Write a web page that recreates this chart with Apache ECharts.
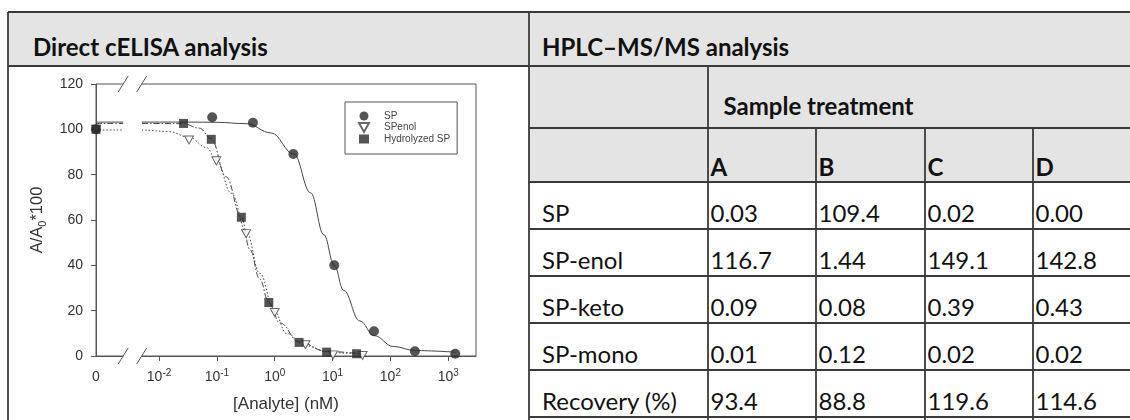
<!DOCTYPE html>
<html>
<head>
<meta charset="utf-8">
<script src="https://cdn.jsdelivr.net/npm/echarts@6/dist/echarts.min.js"></script>
<style>
  html, body { margin: 0; padding: 0; background: #fff; width: 1130px; height: 420px; overflow: hidden; }
  #page { position: relative; width: 1130px; height: 420px; }
  #table { position: absolute; left: 0; top: 0; }
  #chart { position: absolute; left: 9px; top: 67px; width: 519px; height: 353px; }
</style>
</head>
<body>
<div id="page">
  <svg id="table" width="1130" height="420"></svg>
  <div id="chart"></div>
</div>
<script>
// ---- cELISA curves: concentration (nM) and A/A0*100 ----
// concentration 0 is drawn at ZERO_POS, left of the axis break
const ZERO_POS = -3.09
const X_MAX = 3.48
const xTickExp = [-2, -1, 0, 1, 2, 3]
const yTicks = [0, 20, 40, 60, 80, 100, 120]

const spConc = [0, 0.083, 0.42, 2.1, 10.7, 52, 265, 1320]
const spVal = [100, 105.3, 102.9, 89.1, 40.0, 10.9, 2.1, 1.0]
const enolConc = [0, 0.033, 0.098, 0.32, 1.0, 3.4, 10.2, 33]
const enolVal = [100, 95.3, 86.1, 54.0, 19.2, 5.0, 0.5, 0.2]
const hydroConc = [0, 0.0265, 0.080, 0.265, 0.79, 2.64, 7.9, 26]
const hydroVal = [100, 102.6, 95.6, 61.2, 23.6, 6.0, 1.7, 1.0]

// fitted curves
const spFitConc = [0, 0.005, 0.032, 0.1, 0.32, 0.87, 2.14, 4.17, 7.08, 10.7, 15.5, 29.5, 52.5, 112, 269, 1318]
const spFitVal = [103.2, 103.2, 103.2, 103.1, 102.5, 98.4, 89.1, 72, 53.5, 40, 29, 15.5, 9, 4.2, 2.4, 1.7]
const enolFitConc = [0, 0.005, 0.015, 0.033, 0.066, 0.098, 0.178, 0.33, 0.55, 1.0, 1.58, 3.47, 7.9, 17.4, 35.5]
const enolFitVal = [99.7, 99.7, 99, 96.5, 92, 86.5, 71.8, 54, 36.5, 19.5, 10, 4.5, 2.0, 1.2, 0.8]
const hydroFitConc = [0, 0.005, 0.0263, 0.05, 0.079, 0.145, 0.263, 0.372, 0.55, 0.79, 1.23, 2.63, 7.9, 26.3]
const hydroFitVal = [102.6, 102.6, 102.5, 100.5, 96, 79, 61.5, 47, 34, 23.5, 14.6, 6.2, 2.0, 1.2]

// ---- HPLC-MS/MS table ----
const celisaTitle = 'Direct cELISA analysis'
const hplcTitle = 'HPLC–MS/MS analysis'
const treatmentTitle = 'Sample treatment'
const treatments = ['A', 'B', 'C', 'D']
const analytes = ['SP', 'SP-enol', 'SP-keto', 'SP-mono', 'Recovery (%)']
const spRow = ['0.03', '109.4', '0.02', '0.00']
const spEnolRow = ['116.7', '1.44', '149.1', '142.8']
const spKetoRow = ['0.09', '0.08', '0.39', '0.43']
const spMonoRow = ['0.01', '0.12', '0.02', '0.02']
const recoveryRow = ['93.4', '88.8', '119.6', '114.6']
const tableRows = [spRow, spEnolRow, spKetoRow, spMonoRow, recoveryRow]

// table layout
const X_LEFT = 8
const X_MID = 529
const COL_X = [708, 816, 925, 1033, 1141]
const ROW_Y = [12, 66, 128, 182, 229, 276, 323, 370, 417]
const GRAY = '#e4e4e4'
const LINE = '#3a3a3a'

const NS = 'http://www.w3.org/2000/svg'
const svg = document.getElementById('table')
const add = (tag, attrs, text) => {
  const el = document.createElementNS(NS, tag)
  Object.keys(attrs).forEach(k => el.setAttribute(k, attrs[k]))
  if (text !== undefined) el.textContent = text
  svg.appendChild(el)
  return el
}
const txt = (x, y, s, bold) => add('text', {
  x, y, 'font-family': 'Lato', 'font-size': 24, 'font-weight': bold ? 700 : 400, fill: '#111'
}, s)

// fills
add('rect', { x: X_LEFT, y: ROW_Y[0], width: COL_X[4] - X_LEFT, height: ROW_Y[1] - ROW_Y[0], fill: GRAY })
add('rect', { x: X_MID, y: ROW_Y[1], width: COL_X[4] - X_MID, height: ROW_Y[3] - ROW_Y[1], fill: GRAY })

// texts
txt(33, 56, celisaTitle, true)
txt(542, 56, hplcTitle, true)
txt(723.5, 115, treatmentTitle, true)
treatments.forEach((t, i) => txt(COL_X[i] + 2.5, 175.5, t, true))
analytes.forEach((a, r) => {
  const base = ROW_Y[r + 4] - 7
  txt(542, base, a, false)
  tableRows[r].forEach((v, i) => txt(COL_X[i] + 2.5, base, v, false))
})

// grid lines
const line = (x1, y1, x2, y2) => add('line', { x1, y1, x2, y2, stroke: LINE, 'stroke-width': 1.8 })
line(X_LEFT, ROW_Y[0], COL_X[4], ROW_Y[0])
line(X_LEFT, ROW_Y[1], COL_X[4], ROW_Y[1])
for (let r = 2; r < ROW_Y.length; r++) line(X_MID, ROW_Y[r], COL_X[4], ROW_Y[r])
line(X_LEFT, ROW_Y[0], X_LEFT, 430)
line(X_MID, ROW_Y[0], X_MID, 430)
line(COL_X[0], ROW_Y[1], COL_X[0], 430)
for (let i = 1; i < 4; i++) line(COL_X[i], ROW_Y[2], COL_X[i], 430)

// ---- chart ----
const pos = c => (c === 0 ? ZERO_POS : Math.log10(c))
const pairs = (cs, vs) => cs.map((c, i) => [pos(c), vs[i]])

const MARK = '#2b2b2b'
const AXIS = '#555'
const BREAK = [-2.62, -2.30]

const chart = echarts.init(document.getElementById('chart'))

const fitLine = (name, cs, vs, type) => ({
  name, type: 'line', data: pairs(cs, vs),
  smooth: 0.4, smoothMonotone: 'x', symbol: 'none', z: 2,
  lineStyle: { color: '#444', width: 1, type }
})

chart.setOption({
  animation: false,
  textStyle: { fontFamily: 'Liberation Sans' },
  grid: { left: 87, top: 17, width: 380, height: 272, show: true, borderColor: AXIS, borderWidth: 1 },
  legend: {
    orient: 'vertical', left: 336, top: 35,
    padding: [9, 7, 10, 13],
    itemWidth: 10, itemHeight: 9, itemGap: 1,
    borderColor: AXIS, borderWidth: 1,
    selectedMode: false,
    textStyle: { fontSize: 10, color: '#444', padding: [0, 0, 0, 10] },
    data: ['SP', 'SPenol', 'Hydrolyzed SP']
  },
  xAxis: {
    type: 'value', min: ZERO_POS, max: X_MAX,
    name: '[Analyte] (nM)', nameLocation: 'middle', nameGap: 40,
    nameTextStyle: { fontSize: 17, color: '#333' },
    axisLine: { show: true, onZero: false, lineStyle: { color: AXIS } },
    axisTick: { show: true, length: 5, customValues: xTickExp, lineStyle: { color: AXIS } },
    axisLabel: {
      customValues: [ZERO_POS].concat(xTickExp),
      margin: 12, color: '#333',
      formatter: v => (v === ZERO_POS ? '{b|0}' : '{b|10}{s|' + v + '}'),
      rich: {
        b: { fontSize: 14, lineHeight: 18, color: '#333' },
        s: { fontSize: 10, lineHeight: 10, verticalAlign: 'top', color: '#333' }
      }
    },
    splitLine: { show: false }
  },
  yAxis: {
    type: 'value', min: yTicks[0], max: yTicks[yTicks.length - 1], interval: 20,
    name: '{m|A/A}{sub|0}{m|*100}', nameLocation: 'middle', nameGap: 47,
    nameTextStyle: {
      color: '#333',
      rich: {
        m: { fontSize: 16.5, lineHeight: 20, verticalAlign: 'top', color: '#333' },
        sub: { fontSize: 11, lineHeight: 11, verticalAlign: 'bottom', color: '#333' }
      }
    },
    axisLine: { show: true, onZero: false, lineStyle: { color: AXIS } },
    axisTick: { show: true, length: 5, lineStyle: { color: AXIS } },
    axisLabel: { fontSize: 14, color: '#333', margin: 13 },
    splitLine: { show: false }
  },
  series: [
    fitLine('SP fit', spFitConc, spFitVal, 'solid'),
    fitLine('SPenol fit', enolFitConc, enolFitVal, [1.5, 2]),
    fitLine('Hydrolyzed SP fit', hydroFitConc, hydroFitVal, [6, 2, 1.5, 2]),
    {
      name: 'SPenol', type: 'scatter', data: pairs(enolConc, enolVal), z: 3,
      symbol: 'path://M0,0 L10,0 L5,9 Z', symbolSize: [9, 8],
      itemStyle: { color: '#fff', borderColor: '#444', borderWidth: 1 }
    },
    {
      name: 'Hydrolyzed SP', type: 'scatter', data: pairs(hydroConc, hydroVal), z: 4,
      symbol: 'rect', symbolSize: 9, itemStyle: { color: MARK }
    },
    {
      name: 'SP', type: 'scatter', data: pairs(spConc, spVal), z: 5,
      symbol: 'circle', symbolSize: 10, itemStyle: { color: MARK }
    }
  ]
})

// axis break marks (//) on the bottom axis and the top frame
const px = v => chart.convertToPixel({ xAxisIndex: 0 }, v)
const py = v => chart.convertToPixel({ yAxisIndex: 0 }, v)
const xa = px(BREAK[0]), xb = px(BREAK[1])
const yTop = py(yTicks[yTicks.length - 1]), yBot = py(yTicks[0])
const slash = (cx, cy) => ({
  type: 'line', z: 101, silent: true,
  shape: { x1: cx - 5, y1: cy + 8, x2: cx + 5, y2: cy - 8 },
  style: { stroke: AXIS, lineWidth: 1 }
})
chart.setOption({
  graphic: [
    { type: 'rect', z: 100, silent: true, shape: { x: xa, y: yTop - 2, width: xb - xa, height: yBot - yTop + 4 }, style: { fill: '#fff' } },
    slash(xa, yTop), slash(xb, yTop), slash(xa, yBot), slash(xb, yBot)
  ]
})
</script>
</body>
</html>
